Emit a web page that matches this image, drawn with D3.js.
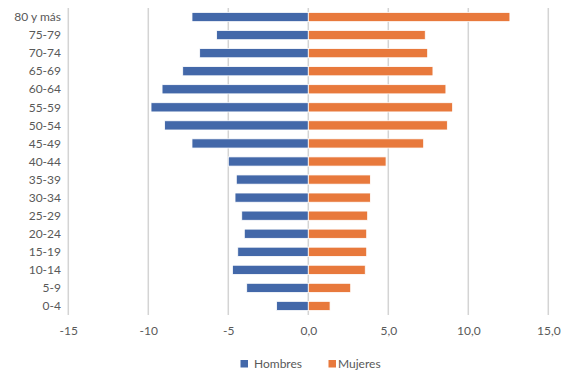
<!DOCTYPE html>
<html><head><meta charset="utf-8">
<script src="https://cdn.jsdelivr.net/npm/d3@7"></script>
<style>body{margin:0;background:#fff}text{font-family:Lato,"Open Sans",sans-serif}</style>
</head><body><svg id="c" width="567" height="376"></svg>
<script>
const categories = ["80 y más","75-79","70-74","65-69","60-64","55-59","50-54","45-49","40-44","35-39","30-34","25-29","20-24","15-19","10-14","5-9","0-4"];
const hombres = [-7.27,-5.73,-6.79,-7.85,-9.14,-9.83,-8.98,-7.27,-5.0,-4.5,-4.58,-4.16,-4.0,-4.41,-4.74,-3.85,-1.98];
const mujeres = [12.6,7.31,7.46,7.79,8.6,9.02,8.69,7.21,4.86,3.88,3.88,3.71,3.65,3.65,3.56,2.65,1.36];
const tickValues = [-15,-10,-5,0,5,10,15];
const tickLabels = ["-15","-10","-5","0,0","5,0","10,0","15,0"];
const seriesNames = ["Hombres","Mujeres"];
const colors = ["#4368a9","#e8793c"];

const svg = d3.select("#c");
const x = d3.scaleLinear().domain([-15,15]).range([68.3,548.3]);
const y = d3.scaleBand().domain(categories).range([8,315]).paddingInner(0.49).paddingOuter(0.245);

svg.append("g").selectAll("line").data(tickValues).join("line")
  .attr("x1",d=>x(d)).attr("x2",d=>x(d)).attr("y1",8).attr("y2",315)
  .attr("stroke","#d4d4d4").attr("stroke-width",1.5);

const rows = categories.map((c,i)=>({c,h:hombres[i],m:mujeres[i]}));
svg.append("g").selectAll("rect").data(rows).join("rect")
  .attr("x",d=>x(d.h)).attr("width",d=>x(0)-x(d.h)).attr("y",d=>y(d.c)).attr("height",y.bandwidth())
  .attr("fill",colors[0]).attr("stroke","#fff").attr("stroke-width",0.8);
svg.append("g").selectAll("rect").data(rows).join("rect")
  .attr("x",x(0)).attr("width",d=>x(d.m)-x(0)).attr("y",d=>y(d.c)).attr("height",y.bandwidth())
  .attr("fill",colors[1]).attr("stroke","#fff").attr("stroke-width",0.8);

const ya = d3.axisLeft(y).tickSize(0).tickPadding(0);
const gy = svg.append("g").attr("transform","translate(61,0)").call(ya);
gy.select(".domain").remove();
gy.selectAll("text").attr("fill","#595959").attr("font-size",12).attr("dy","0.35em");

const xa = d3.axisBottom(x).tickValues(tickValues).tickFormat((d,i)=>tickLabels[i]).tickSize(0).tickPadding(0);
const gx = svg.append("g").attr("transform","translate(0,331)").call(xa);
gx.select(".domain").remove();
gx.selectAll("text").attr("fill","#595959").attr("font-size",12).attr("dy","0.35em");

const leg = svg.append("g");
const legX = [240.5,328.5];
seriesNames.forEach((n,i)=>{
  leg.append("rect").attr("x",legX[i]).attr("y",360).attr("width",7.5).attr("height",7.5).attr("fill",colors[i]);
  leg.append("text").attr("x",legX[i]+(i?9.5:13.5)).attr("y",364).attr("dy","0.35em").attr("font-size",12).attr("fill","#595959").text(n);
});
</script></body></html>
